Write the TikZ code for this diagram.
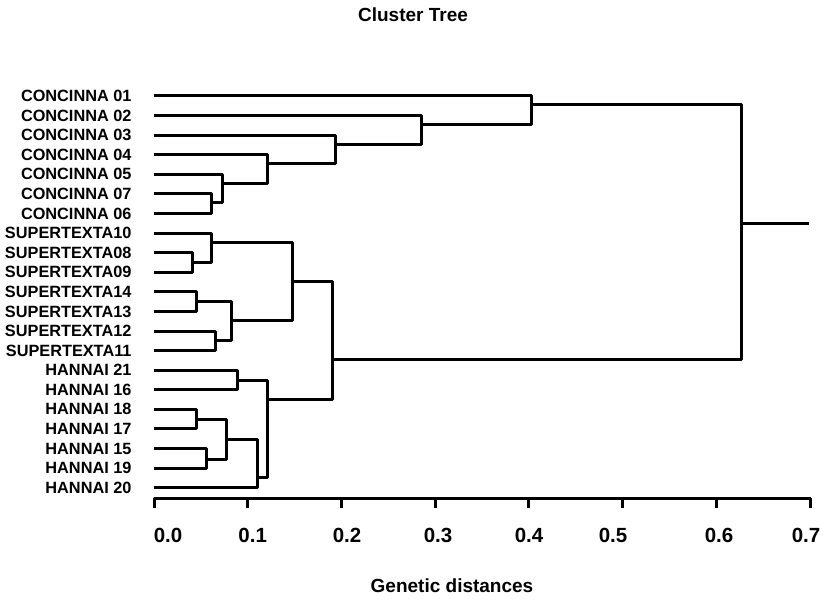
\documentclass[tikz,border=0pt]{standalone}
\usepackage{fontspec}
\setmainfont{Liberation Sans}
\usetikzlibrary{positioning}
\tikzset{
  branch/.style={draw=black,line width=3pt,line join=round},
  leaflabel/.style={inner sep=0pt,font=\fontsize{16.3}{18}\selectfont\bfseries},
  ticklabel/.style={inner sep=0pt,font=\fontsize{20.5}{22}\selectfont\bfseries},
  titlelabel/.style={inner sep=0pt,font=\fontsize{19}{21}\selectfont\bfseries}
}

\begin{document}
\begin{tikzpicture}[x=1pt,y=-1pt]
  \useasboundingbox[fill=white] (0,0) rectangle (827,601);
  \node[titlelabel] (title) at (413,15) {Cluster Tree};

  % leaves, top to bottom
  \foreach \name/\lab [count=\i from 0] in {c01/CONCINNA 01,c02/CONCINNA 02,
      c03/CONCINNA 03,c04/CONCINNA 04,c05/CONCINNA 05,c07/CONCINNA 07,
      c06/CONCINNA 06,s10/SUPERTEXTA10,s08/SUPERTEXTA08,s09/SUPERTEXTA09,
      s14/SUPERTEXTA14,s13/SUPERTEXTA13,s12/SUPERTEXTA12,s11/SUPERTEXTA11,
      h21/HANNAI 21,h16/HANNAI 16,h18/HANNAI 18,h17/HANNAI 17,
      h15/HANNAI 15,h19/HANNAI 19,h20/HANNAI 20} {
    \coordinate (\name) at (154,96+19.585*\i);
    \node[leaflabel,left=22.3pt of \name] (lab\name) {\lab};
  }

  % merge points
  \coordinate (m67) at (211.7,202.3);
  \coordinate (m5) at (222,183.3);
  \coordinate (m4) at (267.7,164);
  \coordinate (m3) at (335,145);
  \coordinate (m2) at (421.7,124.3);
  \coordinate (conc) at (531.7,105);
  \coordinate (m89) at (192.3,262.7);
  \coordinate (m10) at (211,242.7);
  \coordinate (m1413) at (196,301.7);
  \coordinate (m1211) at (215,340.3);
  \coordinate (m1114) at (231.3,321);
  \coordinate (supt) at (292.7,282);
  \coordinate (m2116) at (237.7,380);
  \coordinate (m1817) at (196,419.3);
  \coordinate (m1519) at (206,459);
  \coordinate (m1519b) at (226,439);
  \coordinate (m20) at (257.7,477.3);
  \coordinate (hann) at (267.7,399.3);
  \coordinate (sh) at (332.3,360);
  \coordinate (root) at (741,224);
  \coordinate (rootend) at (809.3,224);

  % concinna
  \draw[branch] (c07) -| (m67) (c06) -| (m67);
  \draw[branch] (c05) -| (m5) (m67) -| (m5);
  \draw[branch] (c04) -| (m4) (m5) -| (m4);
  \draw[branch] (c03) -| (m3) (m4) -| (m3);
  \draw[branch] (c02) -| (m2) (m3) -| (m2);
  \draw[branch] (c01) -| (conc) (m2) -| (conc);
  % supertexta
  \draw[branch] (s08) -| (m89) (s09) -| (m89);
  \draw[branch] (s10) -| (m10) (m89) -| (m10);
  \draw[branch] (s14) -| (m1413) (s13) -| (m1413);
  \draw[branch] (s12) -| (m1211) (s11) -| (m1211);
  \draw[branch] (m1413) -| (m1114) (m1211) -| (m1114);
  \draw[branch] (m10) -| (supt) (m1114) -| (supt);
  % hannai
  \draw[branch] (h21) -| (m2116) (h16) -| (m2116);
  \draw[branch] (h18) -| (m1817) (h17) -| (m1817);
  \draw[branch] (h15) -| (m1519) (h19) -| (m1519);
  \draw[branch] (m1817) -| (m1519b) (m1519) -| (m1519b);
  \draw[branch] (m1519b) -| (m20) (h20) -| (m20);
  \draw[branch] (m2116) -| (hann) (m20) -| (hann);
  % top levels
  \draw[branch] (supt) -| (sh) (hann) -| (sh);
  \draw[branch] (conc) -| (root) (sh) -| (root);
  \draw[branch] (root) -- (rootend);

  % distance axis
  \draw[branch] (154,508) -- (154,498) -- (810,498) -- (810,508);
  \foreach \i in {1,...,6}
    \draw[branch] (154+93.714*\i,498) -- ++(0,10);
  \foreach \v/\px [count=\i] in {0.0/168,0.1/252.7,0.2/347,0.3/438,
      0.4/529,0.5/613,0.6/719,0.7/806}
    \node[ticklabel] (tick\i) at (\px,535.8) {\v};
  \node[titlelabel] (xlab) at (452,586) {Genetic distances};
\end{tikzpicture}
\end{document}
